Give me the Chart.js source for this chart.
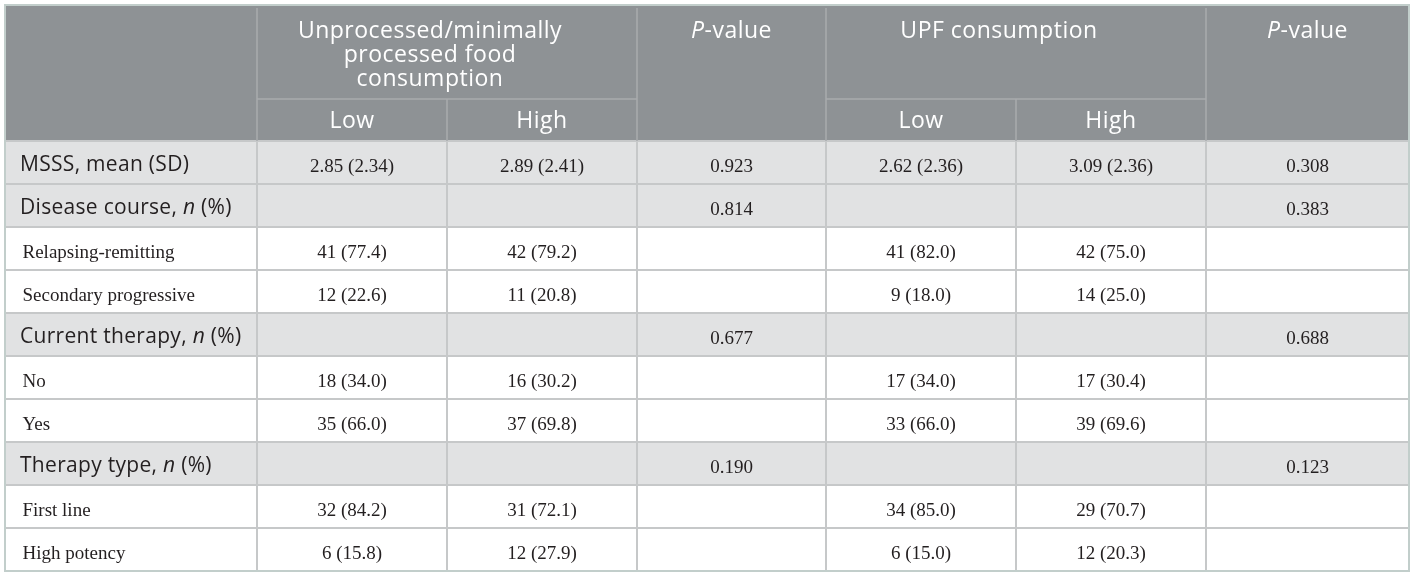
<!DOCTYPE html>
<html>
<head>
<meta charset="utf-8">
<script src="https://cdn.jsdelivr.net/npm/chart.js@4.4.0/dist/chart.umd.min.js"></script>
<style>
  html, body { margin: 0; padding: 0; background: #ffffff; }
  #wrap { width: 1414px; height: 577px; }
</style>
</head>
<body>
<div id="wrap"><canvas id="c" width="1414" height="577"></canvas></div>
<script>
// ---------- DATA ----------
const rowLabels = ['MSSS, mean (SD)', 'Disease course, n (%)', 'Relapsing-remitting', 'Secondary progressive',
  'Current therapy, n (%)', 'No', 'Yes', 'Therapy type, n (%)', 'First line', 'High potency'];
const rowIsGroup = [true, true, false, false, true, false, false, true, false, false];
const unprocLow  = ['2.85 (2.34)', '', '41 (77.4)', '12 (22.6)', '', '18 (34.0)', '35 (66.0)', '', '32 (84.2)', '6 (15.8)'];
const unprocHigh = ['2.89 (2.41)', '', '42 (79.2)', '11 (20.8)', '', '16 (30.2)', '37 (69.8)', '', '31 (72.1)', '12 (27.9)'];
const unprocP    = ['0.923', '0.814', '', '', '0.677', '', '', '0.190', '', ''];
const upfLow     = ['2.62 (2.36)', '', '41 (82.0)', '9 (18.0)', '', '17 (34.0)', '33 (66.0)', '', '34 (85.0)', '6 (15.0)'];
const upfHigh    = ['3.09 (2.36)', '', '42 (75.0)', '14 (25.0)', '', '17 (30.4)', '39 (69.6)', '', '29 (70.7)', '12 (20.3)'];
const upfP       = ['0.308', '0.383', '', '', '0.688', '', '', '0.123', '', ''];
const groupHeaders = ['Unprocessed/minimally\nprocessed food\nconsumption', 'UPF consumption'];
const subHeaders = ['Low', 'High'];
const pHeader = 'P-value';

// ---------- LAYOUT (table units) ----------
const colEdges = [0, 252, 442, 632, 821, 1011, 1201, 1404];
const headerH = 136, subTop = 94, rowH = 43;
const groupTextShift = -17;
const totalH = headerH + rowH * rowLabels.length;

const COL_HEADER = '#8e9295';
const COL_GROUP = '#e1e2e3';
const COL_GRID = '#c6c8c9';
const COL_HGRID = '#a8abae';
const COL_BORDER = '#c2cecb';
const SANS = '"Open Sans", Lato, sans-serif';
const SERIF = '"Liberation Serif", "DejaVu Serif", serif';

function setSpacing(ctx, v) { if ('letterSpacing' in ctx) ctx.letterSpacing = v + 'px'; }
function drawMixed(ctx, parts, x, y, align, size, color, spacing) {
  setSpacing(ctx, spacing);
  let total = 0;
  parts.forEach(p => { ctx.font = (p.italic ? 'italic ' : '') + size + 'px ' + SANS; p.w = ctx.measureText(p.t).width; total += p.w; });
  let cx = align === 'center' ? x - total / 2 : x;
  ctx.fillStyle = color;
  ctx.textAlign = 'left';
  ctx.textBaseline = 'alphabetic';
  parts.forEach(p => { ctx.font = (p.italic ? 'italic ' : '') + size + 'px ' + SANS; ctx.fillText(p.t, cx, y); cx += p.w; });
  setSpacing(ctx, 0);
}
function splitItalicN(label) {
  const m = label.match(/^(.*, )n( \(%\))$/);
  if (m) return [{t: m[1]}, {t: 'n', italic: true}, {t: m[2]}];
  return [{t: label}];
}

const tablePlugin = {
  id: 'tablePlugin',
  beforeDatasetsDraw(chart) {
    const ctx = chart.ctx, X = chart.scales.x, Y = chart.scales.y;
    const px = v => X.getPixelForValue(v), py = v => Y.getPixelForValue(v);
    ctx.save();
    // backgrounds
    ctx.fillStyle = '#ffffff';
    ctx.fillRect(px(0), py(0), px(colEdges[7]) - px(0), py(totalH) - py(0));
    ctx.fillStyle = COL_HEADER;
    ctx.fillRect(px(0), py(0), px(colEdges[7]) - px(0), py(headerH) - py(0));
    rowLabels.forEach((l, i) => {
      if (rowIsGroup[i]) {
        ctx.fillStyle = COL_GROUP;
        const y0 = py(headerH + i * rowH), y1 = py(headerH + (i + 1) * rowH);
        ctx.fillRect(px(0), y0, px(colEdges[7]) - px(0), y1 - y0);
      }
    });
    // body grid
    ctx.strokeStyle = COL_GRID; ctx.lineWidth = 2;
    for (let i = 0; i < rowLabels.length; i++) {
      const y = py(headerH + i * rowH);
      ctx.beginPath(); ctx.moveTo(px(0), y); ctx.lineTo(px(colEdges[7]), y); ctx.stroke();
    }
    for (let c = 1; c < 7; c++) {
      ctx.beginPath(); ctx.moveTo(px(colEdges[c]), py(headerH)); ctx.lineTo(px(colEdges[c]), py(totalH)); ctx.stroke();
    }
    // header grid
    ctx.strokeStyle = COL_HGRID; ctx.lineWidth = 1.5;
    [1, 3, 4, 6].forEach(c => { ctx.beginPath(); ctx.moveTo(px(colEdges[c]), py(0) + 3); ctx.lineTo(px(colEdges[c]), py(headerH)); ctx.stroke(); });
    [2, 5].forEach(c => { ctx.beginPath(); ctx.moveTo(px(colEdges[c]), py(subTop)); ctx.lineTo(px(colEdges[c]), py(headerH)); ctx.stroke(); });
    [[1, 3], [4, 6]].forEach(([a, b]) => { ctx.beginPath(); ctx.moveTo(px(colEdges[a]), py(subTop)); ctx.lineTo(px(colEdges[b]), py(subTop)); ctx.stroke(); });
    // outer border
    ctx.strokeStyle = COL_BORDER; ctx.lineWidth = 2;
    ctx.strokeRect(px(0), py(0), px(colEdges[7]) - px(0), py(totalH) - py(0));

    // header text
    const hs = 23, hsp = 0.5;
    [[1, 3], [4, 6]].forEach(([a, b], gi) => {
      const cx = (px(colEdges[a]) + px(colEdges[b])) / 2 + groupTextShift;
      groupHeaders[gi].split('\n').forEach((line, li) => {
        drawMixed(ctx, [{t: line}], cx, py(33 + li * 24), 'center', hs, '#ffffff', hsp);
      });
    });
    [1, 2, 4, 5].forEach((c, k) => {
      drawMixed(ctx, [{t: subHeaders[k % 2]}], (px(colEdges[c]) + px(colEdges[c + 1])) / 2, py(123), 'center', hs, '#ffffff', hsp);
    });
    [3, 6].forEach(c => {
      const cx = (px(colEdges[c]) + px(colEdges[c + 1])) / 2;
      drawMixed(ctx, [{t: 'P', italic: true}, {t: pHeader.slice(1)}], cx, py(33), 'center', hs, '#ffffff', hsp);
    });

    // body text
    const cols = [unprocLow, unprocHigh, unprocP, upfLow, upfHigh, upfP];
    rowLabels.forEach((label, i) => {
      const top = headerH + i * rowH;
      if (rowIsGroup[i]) {
        drawMixed(ctx, splitItalicN(label), px(15), py(top + 30), 'left', 21, '#231f20', 0.3);
      } else {
        ctx.font = '19px ' + SERIF; ctx.fillStyle = '#231f20'; ctx.textAlign = 'left'; ctx.textBaseline = 'alphabetic';
        ctx.fillText(label, px(17.5), py(top + 31));
      }
      cols.forEach((arr, c) => {
        if (!arr[i]) return;
        ctx.font = '19px ' + SERIF; ctx.fillStyle = '#231f20'; ctx.textAlign = 'center'; ctx.textBaseline = 'alphabetic';
        ctx.fillText(arr[i], (px(colEdges[c + 1]) + px(colEdges[c + 2])) / 2, py(top + 31));
      });
    });
    ctx.restore();
  }
};

new Chart(document.getElementById('c'), {
  type: 'scatter',
  data: { datasets: [{ data: [], pointRadius: 0 }] },
  options: {
    responsive: false,
    devicePixelRatio: 1,
    animation: false,
    layout: { padding: { left: 5, top: 5, right: 5, bottom: 6 } },
    plugins: { legend: { display: false }, tooltip: { enabled: false } },
    scales: {
      x: { type: 'linear', min: 0, max: colEdges[7], display: false },
      y: { type: 'linear', min: 0, max: totalH, reverse: true, display: false }
    }
  },
  plugins: [tablePlugin]
});
</script>
</body>
</html>
